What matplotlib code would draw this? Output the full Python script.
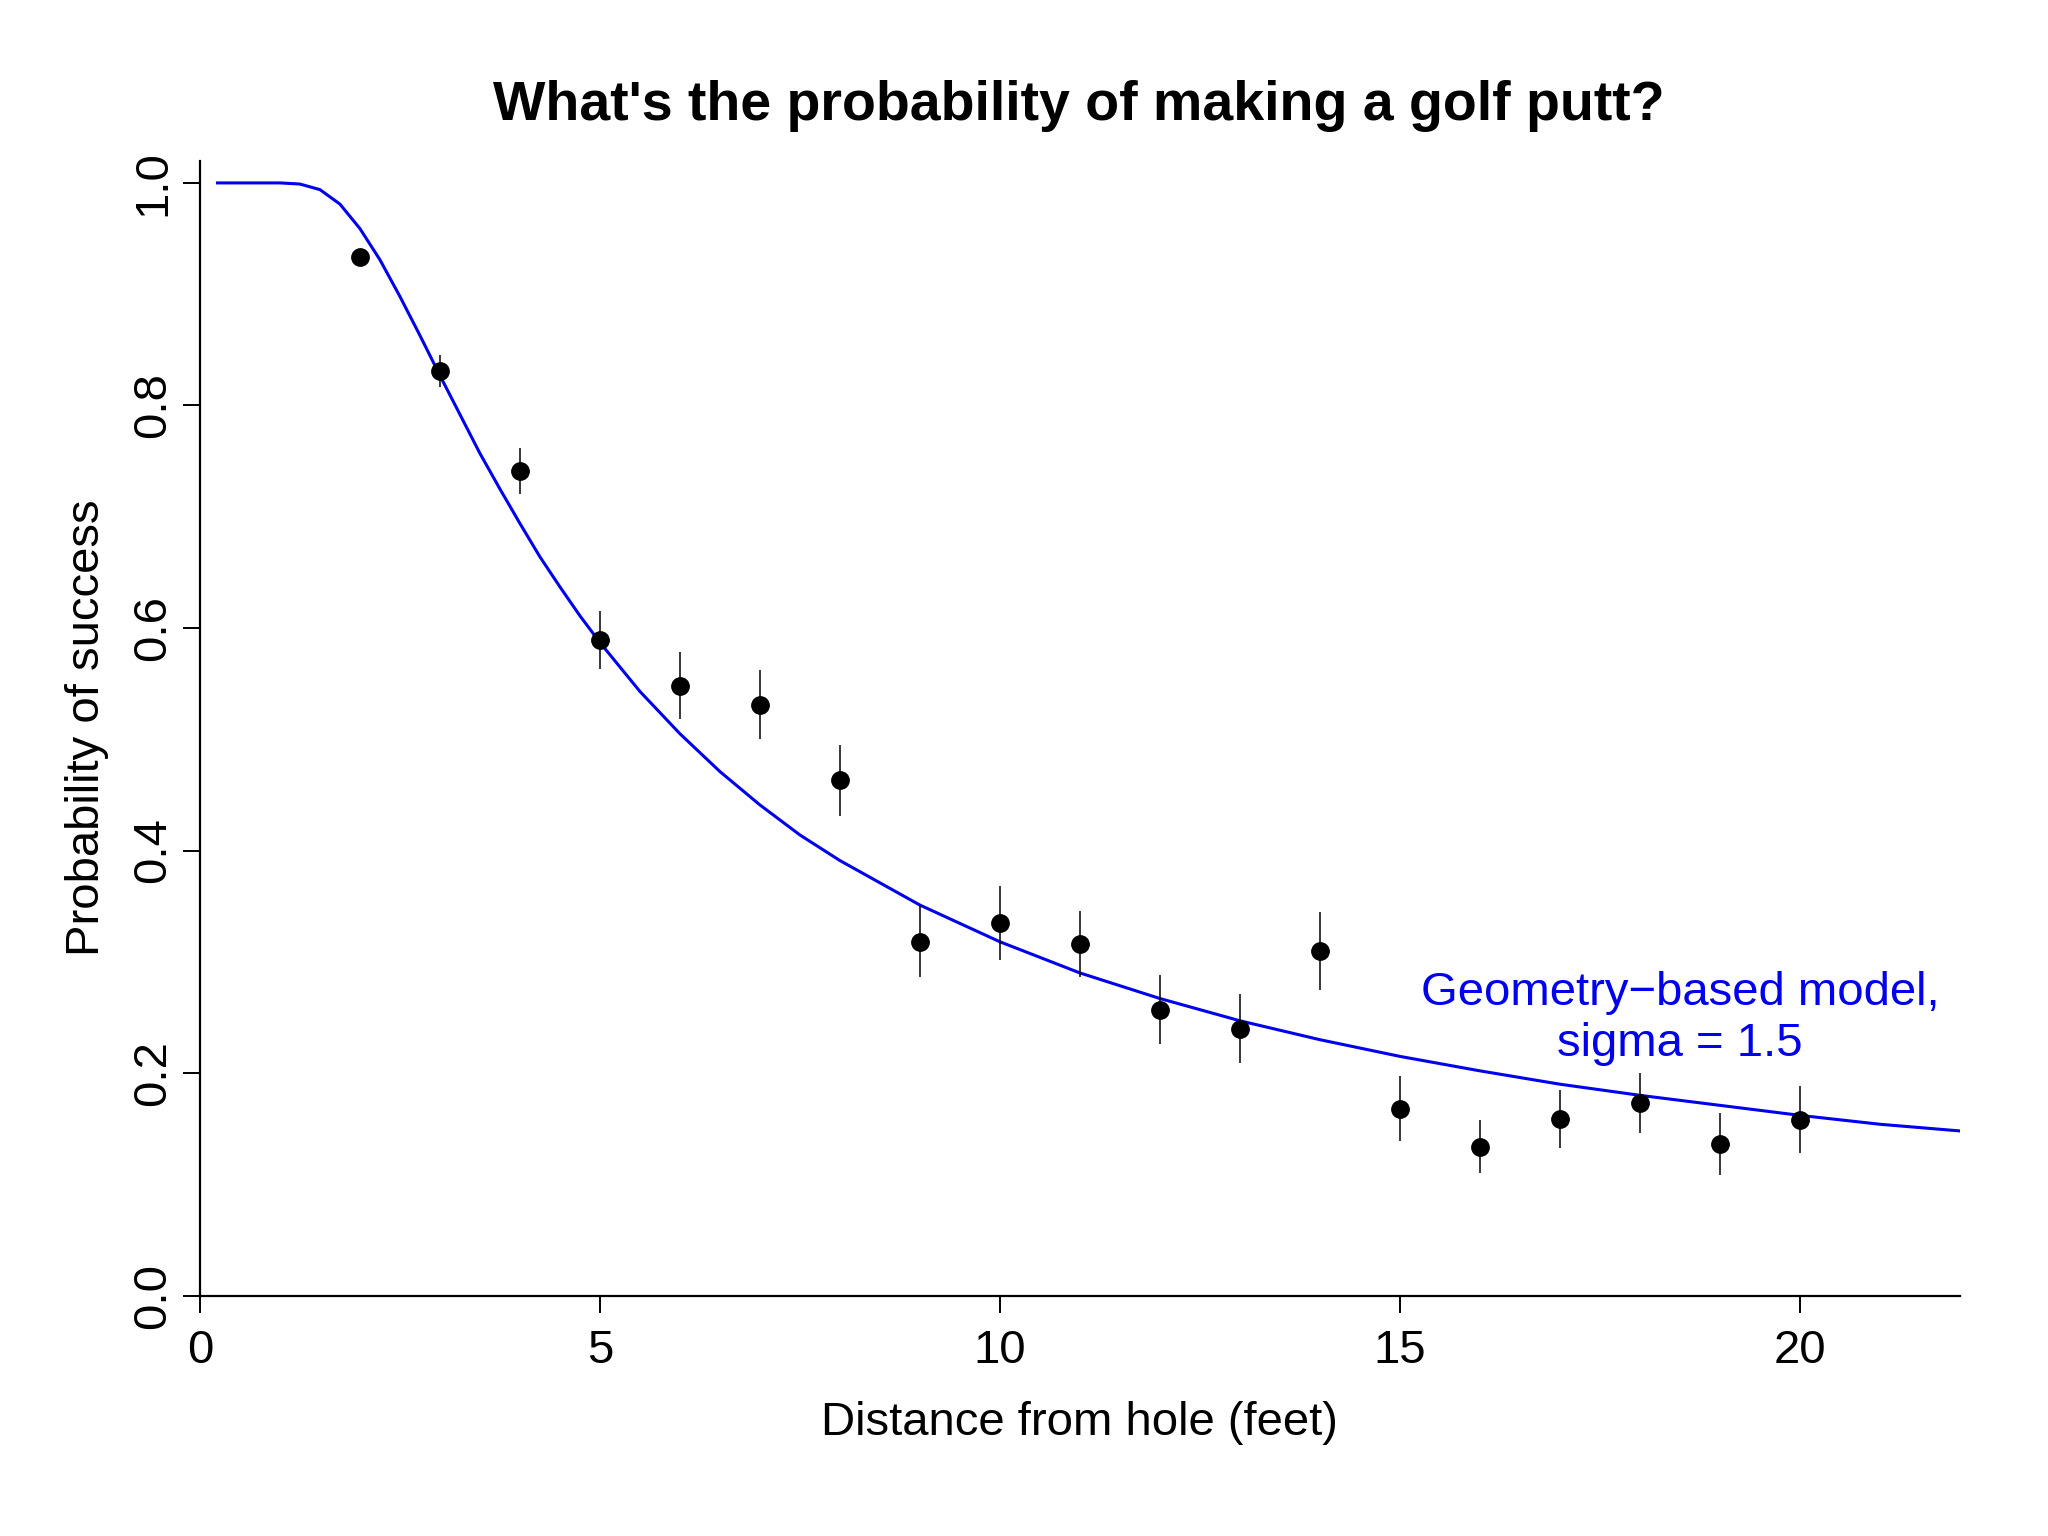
import matplotlib.pyplot as plt

plt.rcParams['font.family'] = ['Liberation Sans', 'DejaVu Sans']

# observed putting success rates with +/- 1 standard error
distance = [2, 3, 4, 5, 6, 7, 8, 9, 10, 11, 12, 13, 14, 15, 16, 17, 18, 19, 20]
success = [0.933, 0.831, 0.741, 0.589, 0.548, 0.531, 0.463, 0.318, 0.335, 0.316,
           0.257, 0.240, 0.310, 0.168, 0.134, 0.159, 0.173, 0.136, 0.158]
std_err = [0.007, 0.014, 0.021, 0.026, 0.030, 0.031, 0.032, 0.032, 0.033, 0.030,
           0.031, 0.031, 0.035, 0.029, 0.024, 0.026, 0.027, 0.028, 0.030]

# geometry-based model curve (sigma = 1.5)
model_x = [0.22, 0.5, 0.75, 1.0, 1.25, 1.5, 1.75, 2.0, 2.25, 2.5, 2.75, 3.0, 3.25,
           3.5, 3.75, 4.0, 4.25, 4.5, 4.75, 5.0, 5.5, 6.0, 6.5, 7.0, 7.5, 8.0, 9.0,
           10.0, 11.0, 12.0, 13.0, 14.0, 15.0, 16.0, 17.0, 18.0, 19.0, 20.0, 21.0, 22.0]
model_p = [1.0, 1.0, 1.0, 1.0, 0.999, 0.994, 0.981, 0.959, 0.931, 0.898, 0.863, 0.827,
           0.792, 0.757, 0.725, 0.694, 0.664, 0.637, 0.611, 0.587, 0.543, 0.505, 0.471,
           0.441, 0.414, 0.391, 0.351, 0.318, 0.290, 0.267, 0.247, 0.230, 0.215, 0.202,
           0.190, 0.180, 0.171, 0.162, 0.154, 0.148]

x_ticks = [0, 5, 10, 15, 20]
y_ticks = [0.0, 0.2, 0.4, 0.6, 0.8, 1.0]

fig = plt.figure(figsize=(20.48, 15.36), dpi=100)
ax = fig.add_axes([0.0976, 0.1565, 0.8594, 0.7389])

ax.plot(model_x, model_p, color='#0000ee', lw=2.2, zorder=2)
ax.errorbar(distance, success, yerr=std_err, fmt='o', color='black', ms=12.5,
            elinewidth=1.1, capsize=0, zorder=3)

ax.text(18.5, 0.249, "Geometry\u2212based model,\nsigma = 1.5", color='#0000ee',
        fontsize=34, ha='center', va='center', linespacing=1.2)

ax.set_xlim(0, 22)
ax.set_ylim(0, 1.02)
ax.set_xticks(x_ticks)
ax.set_xticklabels([str(t) for t in x_ticks])
ax.set_yticks(y_ticks)
ax.set_yticklabels([f"{t:.1f}" for t in y_ticks], rotation=90, va='center')

for side in ['top', 'right']:
    ax.spines[side].set_visible(False)
for side in ['left', 'bottom']:
    ax.spines[side].set_linewidth(1.6)
ax.tick_params(axis='both', direction='out', length=12, width=1.4, labelsize=34)
ax.tick_params(axis='x', pad=12)
ax.tick_params(axis='y', pad=6)

ax.set_xlabel("Distance from hole (feet)", fontsize=34, labelpad=20)
ax.set_ylabel("Probability of success", fontsize=34, labelpad=16)
fig.suptitle("What's the probability of making a golf putt?", fontsize=40,
             fontweight='bold', x=0.527, y=0.948)

fig.savefig("out.png", dpi=100)
